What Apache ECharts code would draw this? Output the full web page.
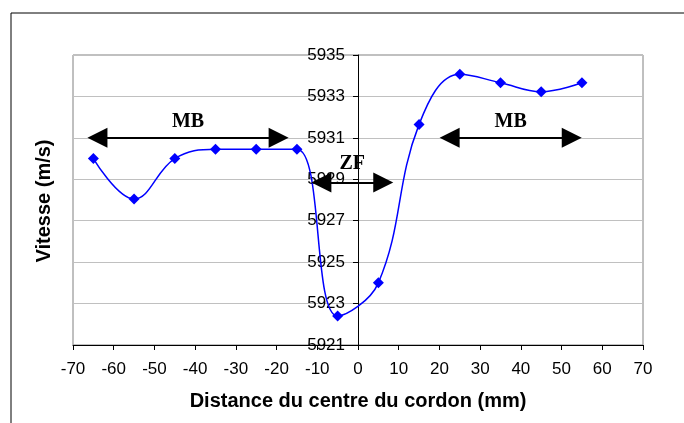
<!DOCTYPE html>
<html>
<head>
<meta charset="utf-8">
<script src="https://cdn.jsdelivr.net/npm/echarts@6/dist/echarts.min.js"></script>
<style>
html, body { margin: 0; padding: 0; background: #fff; }
#main { width: 684px; height: 423px; }
</style>
</head>
<body>
<div id="main"></div>
<script>
// distance from weld centre (mm) and measured velocity (m/s)
let distances = [-65, -55, -45, -35, -25, -15, -5, 5, 15, 25, 35, 45, 55]
let vitesses = [5930.0, 5928.05, 5930.0, 5930.45, 5930.45, 5930.45, 5922.4, 5924.0, 5931.65, 5934.07, 5933.66, 5933.23, 5933.66]

// zone annotations: [label, xFrom, xTo, y]
let zones = [
    ['MB', -64, -19.5, 5931],
    ['ZF', -9, 6.2, 5928.85],
    ['MB', 22.5, 52.5, 5931]
]

let myChart = echarts.init(document.getElementById('main'))

let points = distances.map((d, i) => [d, vitesses[i]])

let zoneLines = zones.map(z => [
    { coord: [z[1], z[3]], label: { formatter: z[0], distance: z[0] == 'ZF' ? 9 : 6 } },
    { coord: [z[2], z[3]] }
])

let labelFont = 'Arial, "Liberation Sans", sans-serif'

let option = {
    animation: false,
    grid: {
        left: 73,
        right: 41,
        top: 55,
        bottom: 78,
        show: true,
        borderColor: '#808080',
        borderWidth: 1
    },
    xAxis: {
        type: 'value',
        min: -70,
        max: 70,
        interval: 10,
        name: 'Distance du centre du cordon (mm)',
        nameLocation: 'middle',
        nameGap: 46,
        nameTextStyle: { fontFamily: labelFont, fontWeight: 'bold', fontSize: 20, color: '#000' },
        axisLine: { onZero: false, lineStyle: { color: '#000', width: 1 } },
        axisTick: { length: 5, lineStyle: { color: '#000' } },
        axisLabel: { fontFamily: labelFont, fontSize: 17, color: '#000', margin: 16 },
        splitLine: { show: false }
    },
    yAxis: {
        type: 'value',
        min: 5921,
        max: 5935,
        interval: 2,
        position: 'left',
        offset: -285,
        axisLine: { show: true, onZero: false, lineStyle: { color: '#000', width: 1 } },
        axisTick: { show: true, length: 5, lineStyle: { color: '#000' } },
        axisLabel: {
            fontFamily: labelFont,
            fontSize: 17,
            color: '#000',
            margin: 13,
            formatter: v => String(v)
        },
        splitLine: { show: true, lineStyle: { color: '#c0c0c0', width: 1 } }
    },
    graphic: [
        {
            type: 'rect',
            shape: { x: 11, y: 13, width: 720, height: 440 },
            style: { fill: 'none', stroke: '#000', lineWidth: 1 },
            silent: true
        },
        {
            type: 'text',
            x: 44,
            y: 201,
            rotation: Math.PI / 2,
            style: {
                text: 'Vitesse (m/s)',
                fill: '#000',
                font: 'bold 20px Arial, "Liberation Sans"',
                align: 'center',
                verticalAlign: 'middle'
            }
        }
    ],
    series: [
        {
            type: 'line',
            data: points,
            smooth: 0.4,
            symbol: 'diamond',
            symbolSize: 11,
            itemStyle: { color: '#0000ff' },
            lineStyle: { color: '#0000ff', width: 1.5 },
            markLine: {
                silent: true,
                symbol: ['triangle', 'triangle'],
                symbolSize: [20, 20],
                lineStyle: { color: '#000', width: 2, type: 'solid' },
                label: {
                    show: true,
                    position: 'middle',
                    color: '#000',
                    fontFamily: '"Times New Roman", "Liberation Serif", serif',
                    fontWeight: 'bold',
                    fontSize: 20
                },
                data: zoneLines
            }
        }
    ]
}

myChart.setOption(option)
</script>
</body>
</html>
